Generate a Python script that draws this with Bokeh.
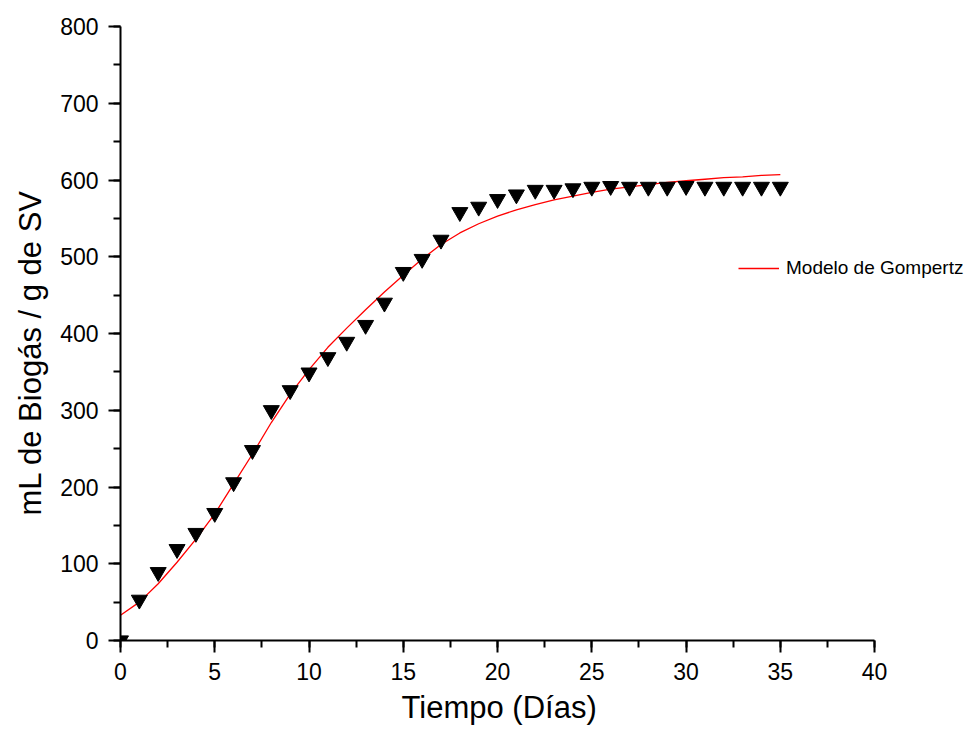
from bokeh.plotting import figure
from bokeh.models import Range1d, Legend, LegendItem, SingleIntervalTicker, Title
from bokeh.embed import file_html
from bokeh.resources import INLINE

# Measured cumulative biogas yield per day
days = list(range(0, 36))
biogas = [0, 53, 89, 119, 140, 166, 206, 248, 300, 326, 349, 369, 389, 411,
          440, 480, 497, 522, 558, 565, 575, 581, 587, 587, 589, 591, 592,
          591, 591, 591, 592, 591, 591, 591, 591, 591]

# Fitted Gompertz model, one value per day
model_days = list(range(0, 36))
model_yield = [33, 50, 74, 102, 132, 165, 204, 243, 284, 321, 353, 382, 407,
               431, 454, 476, 497, 516, 531, 543, 553, 561, 568, 574, 579,
               584, 588, 591, 594, 597, 599, 601, 603, 604, 606, 607]

FONT = "Liberation Sans"

# The frame runs to the right edge so the legend has room; the x axis itself
# is bounded to 0-40.
p = figure(width=971, height=732, output_backend="svg", toolbar_location=None,
           x_range=Range1d(0, 45.14), y_range=Range1d(0, 800),
           min_border_left=119, min_border_right=0,
           min_border_top=26, min_border_bottom=92)

p.background_fill_color = "white"
p.border_fill_color = "white"
p.outline_line_color = None
p.xgrid.visible = False
p.ygrid.visible = False

model_line = p.line(model_days, model_yield, line_color="#ff0000", line_width=1.3)
p.scatter(days, biogas, marker="inverted_triangle", size=16,
          fill_color="black", line_color="black")

p.xaxis.ticker = SingleIntervalTicker(interval=5, num_minor_ticks=2)
p.yaxis.ticker = SingleIntervalTicker(interval=100, num_minor_ticks=2)
p.xaxis.bounds = (0, 40)

for ax in (p.xaxis[0], p.yaxis[0]):
    ax.axis_line_width = 2
    ax.axis_line_color = "black"
    ax.major_tick_line_width = 2
    ax.minor_tick_line_width = 2
    ax.major_tick_line_color = "black"
    ax.minor_tick_line_color = "black"
    ax.major_tick_out = 12
    ax.major_tick_in = 0
    ax.minor_tick_out = 7
    ax.minor_tick_in = 0
    ax.major_label_text_font = FONT
    ax.major_label_text_font_size = "23px"
    ax.major_label_text_color = "black"

p.xaxis.major_label_standoff = 10
p.yaxis.major_label_standoff = 10

# Axis titles, positioned along the bounded axes
x_title = Title(text="Tiempo (Días)", align="left", offset=281, standoff=11,
                text_font=FONT, text_font_size="31px", text_font_style="normal",
                text_color="black")
y_title = Title(text="mL de Biogás / g de SV", align="left", offset=125, standoff=20,
                text_font=FONT, text_font_size="31px", text_font_style="normal",
                text_color="black")
p.add_layout(x_title, "below")
p.add_layout(y_title, "left")

legend = Legend(items=[LegendItem(label="Modelo de Gompertz", renderers=[model_line])],
                location=(618, 361), border_line_color=None,
                background_fill_alpha=0, padding=0, margin=0, spacing=0,
                glyph_width=41, glyph_height=22, label_standoff=7,
                label_text_font=FONT, label_text_font_size="19px",
                label_text_color="black")
p.add_layout(legend)

open("out.html", "w").write(file_html(p, INLINE))
